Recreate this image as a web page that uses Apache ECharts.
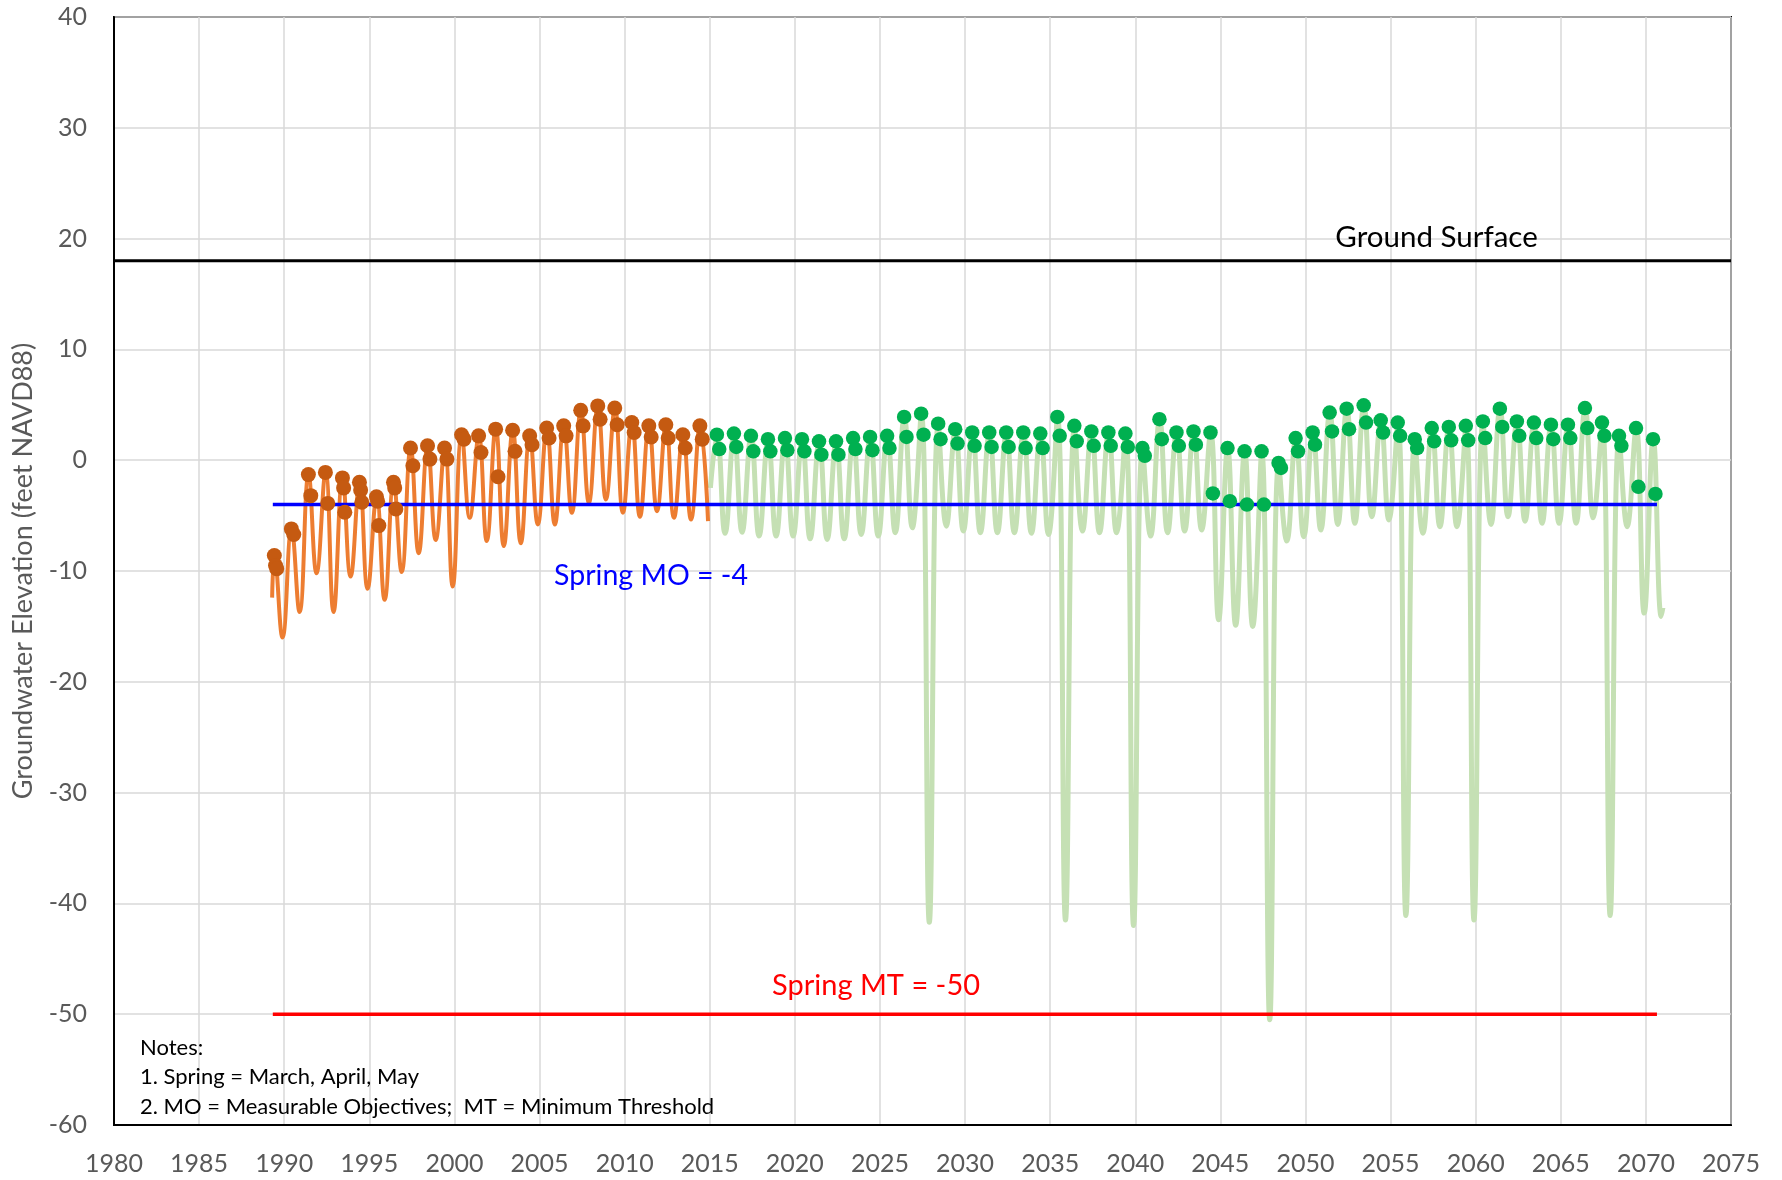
<!DOCTYPE html>
<html>
<head>
<meta charset="utf-8">
<title>Groundwater Elevation</title>
<script src="https://cdn.jsdelivr.net/npm/echarts@6/dist/echarts.min.js"></script>
<style>
  html, body { margin: 0; padding: 0; background: #fff; }
  #chart { width: 1782px; height: 1180px; }
</style>
</head>
<body>
<div id="chart"></div>
<script>
// historical record (orange), one spring high / fall low per year
var histYears = [1989, 1990, 1991, 1992, 1993, 1994, 1995, 1996, 1997, 1998, 1999, 2000, 2001,
  2002, 2003, 2004, 2005, 2006, 2007, 2008, 2009, 2010, 2011, 2012, 2013, 2014];
var histPeak = [-8.6, -6.2, -1.3, -1.1, -1.6, -2.0, -3.3, -2.0, 1.1, 1.3, 1.1, 2.3, 2.2,
  2.9, 2.7, 2.2, 2.9, 3.1, 4.5, 4.9, 4.7, 3.4, 3.1, 3.2, 2.3, 3.1];
var histTrough = [-16.0, -13.7, -10.2, -13.7, -10.5, -11.6, -12.6, -10.1, -8.4, -7.2, -11.4, -5.2, -7.3,
  -7.75, -7.5, -5.8, -5.8, -4.75, -3.85, -3.55, -4.75, -5.1, -4.6, -5.2, -5.35, -5.5];
var histStart = [1989.29, -12.4];
// spring measurements (March / April / May)
var histSpringHi = [-8.6, -6.2, -1.3, -1.1, -1.6, -2.0, -3.3, -2.0, 1.1, 1.3, 1.1, 2.3, 2.2,
  2.8, 2.7, 2.2, 2.9, 3.1, 4.5, 4.9, 4.7, 3.4, 3.1, 3.2, 2.3, 3.1];
var histSpringMid = [-9.5, null, null, null, -2.5, -2.7, -3.7, -2.5, null, null, null, null, null,
  null, null, null, null, null, null, null, null, null, null, null, null, null];
var histSpringLo = [-9.8, -6.7, -3.2, -3.9, -4.7, -3.8, -5.9, -4.4, -0.5, 0.1, 0.1, 1.9, 0.7,
  -1.5, 0.8, 1.4, 2.0, 2.2, 3.1, 3.7, 3.2, 2.5, 2.1, 2.0, 1.1, 1.9];

// projected (green)
var fcstYears = [2015, 2016, 2017, 2018, 2019, 2020, 2021, 2022, 2023, 2024, 2025, 2026, 2027, 2028,
  2029, 2030, 2031, 2032, 2033, 2034, 2035, 2036, 2037, 2038, 2039, 2040, 2041, 2042,
  2043, 2044, 2045, 2046, 2047, 2048, 2049, 2050, 2051, 2052, 2053, 2054, 2055, 2056,
  2057, 2058, 2059, 2060, 2061, 2062, 2063, 2064, 2065, 2066, 2067, 2068, 2069, 2070];
var fcstPeak = [2.3, 2.4, 2.2, 1.9, 2.0, 1.9, 1.7, 1.7, 2.0, 2.1, 2.2, 3.9, 4.2, 3.3,
  2.8, 2.5, 2.5, 2.5, 2.5, 2.4, 3.9, 3.1, 2.6, 2.5, 2.4, 1.1, 3.7, 2.5,
  2.6, 2.5, 1.1, 0.8, 0.8, -0.25, 2.0, 2.5, 4.3, 4.65, 4.95, 3.6, 3.4, 1.9,
  2.9, 3.0, 3.1, 3.5, 4.65, 3.5, 3.4, 3.2, 3.2, 4.7, 3.4, 2.2, 2.9, 1.9];
var fcstTrough = [-6.6, -6.5, -6.85, -6.85, -6.85, -7.1, -7.15, -7.1, -6.7, -6.85, -6.55, -6.1, -41.7, -5.95,
  -6.4, -6.55, -6.55, -6.55, -6.6, -6.7, -41.5, -6.4, -6.55, -6.55, -42.0, -6.85, -6.55, -6.4,
  -6.3, -14.4, -14.9, -15.0, -50.5, -7.3, -6.9, -6.3, -5.8, -5.7, -5.1, -5.4, -41.1, -6.6,
  -6.0, -6.0, -41.5, -5.8, -5.1, -5.5, -5.7, -5.7, -5.7, -5.2, -41.1, -6.0, -13.8, -14.1];
var fcstStart = [2015.04, -2.5];
var fcstEnd = [2071.0, -13.3];
var fcstSpringHi = [2.3, 2.4, 2.2, 1.9, 2.0, 1.9, 1.7, 1.7, 2.0, 2.1, 2.2, 3.9, 4.2, 3.3,
  2.8, 2.5, 2.5, 2.5, 2.5, 2.4, 3.9, 3.1, 2.6, 2.5, 2.4, 1.1, 3.7, 2.5,
  2.6, 2.5, 1.1, 0.8, 0.8, -0.25, 2.0, 2.5, 4.3, 4.65, 4.95, 3.6, 3.4, 1.9,
  2.9, 3.0, 3.1, 3.5, 4.65, 3.5, 3.4, 3.2, 3.2, 4.7, 3.4, 2.2, 2.9, 1.9];
var fcstSpringLo = [1.0, 1.2, 0.8, 0.8, 0.9, 0.8, 0.5, 0.5, 1.0, 0.9, 1.1, 2.1, 2.3, 1.9,
  1.5, 1.3, 1.2, 1.2, 1.1, 1.1, 2.2, 1.7, 1.3, 1.3, 1.2, 0.4, 1.9, 1.3,
  1.4, -3.0, -3.7, -4.0, -4.0, -0.7, 0.8, 1.4, 2.6, 2.8, 3.4, 2.5, 2.2, 1.1,
  1.7, 1.8, 1.8, 2.0, 3.0, 2.2, 2.0, 1.9, 2.0, 2.9, 2.2, 1.3, -2.4, -3.05];

// reference levels
var groundSurface = 18;
var springMO = -4;
var springMT = -50;
var thresholdSpan = [1989.33, 2070.65];

var xTicks = { min: 1980, max: 2075, step: 5 };
var yTicks = { min: -60, max: 40, step: 10 };

// where in the year the high / low / spring readings fall
var PEAK_AT = 0.43, TROUGH_AT = 0.9;
var HI_AT = 0.42, MID_AT = 0.49, LO_AT = 0.56;

function seasonalLine(start, years, peaks, troughs, end) {
  var pts = [start];
  years.forEach(function (y, i) {
    pts.push([y + PEAK_AT, peaks[i]]);
    pts.push([y + TROUGH_AT, troughs[i]]);
  });
  if (end) pts.push(end);
  return pts;
}

function springDots(years, lists, offsets) {
  var pts = [];
  years.forEach(function (y, i) {
    lists.forEach(function (list, k) {
      if (list[i] != null) pts.push([y + offsets[k], list[i]]);
    });
  });
  return pts;
}

function level(v, span) {
  return [[span[0], v], [span[1], v]];
}

var FONT = 'Lato';
var chart = echarts.init(document.getElementById('chart'), null, { renderer: 'canvas' });

var option = {
  animation: false,
  backgroundColor: '#fff',
  textStyle: { fontFamily: FONT },
  grid: {
    left: 114, top: 17, right: 51, bottom: 55,
    show: true, borderColor: '#000', borderWidth: 2,
    containLabel: false, outerBoundsMode: 'none'
  },
  xAxis: {
    type: 'value',
    min: xTicks.min, max: xTicks.max, interval: xTicks.step,
    axisLine: { show: true, onZero: false, lineStyle: { color: '#000', width: 2 } },
    axisTick: { show: false },
    axisLabel: {
      color: '#595959', fontSize: 25, margin: 26, fontFamily: FONT,
      formatter: function (v) { return String(v); }
    },
    splitLine: { show: true, lineStyle: { color: '#d9d9d9', width: 1.5 } }
  },
  yAxis: {
    type: 'value',
    min: yTicks.min, max: yTicks.max, interval: yTicks.step,
    name: 'Groundwater Elevation (feet NAVD88)',
    nameLocation: 'middle',
    nameGap: 77,
    nameTextStyle: { color: '#595959', fontSize: 27, fontFamily: FONT },
    axisLine: { show: true, onZero: false, lineStyle: { color: '#000', width: 2 } },
    axisTick: { show: false },
    axisLabel: { color: '#595959', fontSize: 25, margin: 27, fontFamily: FONT },
    splitLine: { show: true, lineStyle: { color: '#d9d9d9', width: 1.5 } }
  },
  series: [
    {
      name: 'Projected',
      type: 'line',
      data: seasonalLine(fcstStart, fcstYears, fcstPeak, fcstTrough, fcstEnd),
      smooth: 0.45,
      showSymbol: false,
      lineStyle: { color: '#c5e0b4', width: 5 },
      z: 2
    },
    {
      name: 'Historical',
      type: 'line',
      data: seasonalLine(histStart, histYears, histPeak, histTrough, null),
      smooth: 0.45,
      showSymbol: false,
      lineStyle: { color: '#ed7d31', width: 4 },
      z: 2
    },
    {
      name: 'Ground Surface',
      type: 'line',
      data: level(groundSurface, [xTicks.min, xTicks.max]),
      showSymbol: false,
      lineStyle: { color: '#000', width: 3 },
      z: 3
    },
    {
      name: 'Spring MO',
      type: 'line',
      data: level(springMO, thresholdSpan),
      showSymbol: false,
      lineStyle: { color: '#0000ff', width: 3.5 },
      z: 3
    },
    {
      name: 'Spring MT',
      type: 'line',
      data: level(springMT, thresholdSpan),
      showSymbol: false,
      lineStyle: { color: '#ff0000', width: 3.5 },
      z: 3
    },
    {
      name: 'Historical Spring',
      type: 'scatter',
      data: springDots(histYears, [histSpringHi, histSpringMid, histSpringLo], [HI_AT, MID_AT, LO_AT]),
      symbol: 'circle',
      symbolSize: 15,
      itemStyle: { color: '#c55a11', opacity: 1 },
      z: 4
    },
    {
      name: 'Projected Spring',
      type: 'scatter',
      data: springDots(fcstYears, [fcstSpringHi, fcstSpringLo], [HI_AT, LO_AT]),
      symbol: 'circle',
      symbolSize: 14.5,
      itemStyle: { color: '#00b050', opacity: 1 },
      z: 4
    }
  ]
};

chart.setOption(option);

// text labels anchored in data coordinates
function at(x, y) {
  return chart.convertToPixel({ xAxisIndex: 0, yAxisIndex: 0 }, [x, y]);
}
var gs = at(2057.7, 20.1);
var mo = at(2011.55, -10.4);
var mt = at(2024.77, -47.4);

chart.setOption({
  graphic: [
    {
      type: 'text', x: gs[0], y: gs[1], z: 10,
      style: { text: 'Ground Surface', fill: '#000', font: '29.5px ' + FONT, align: 'center', verticalAlign: 'middle' }
    },
    {
      type: 'text', x: mo[0], y: mo[1], z: 10,
      style: { text: 'Spring MO = -4', fill: '#0000ff', font: '28.5px ' + FONT, align: 'center', verticalAlign: 'middle' }
    },
    {
      type: 'text', x: mt[0], y: mt[1], z: 10,
      style: { text: 'Spring MT = -50', fill: '#ff0000', font: '29px ' + FONT, align: 'center', verticalAlign: 'middle' }
    },
    {
      type: 'text', x: 140, y: 1048, z: 10,
      style: { text: 'Notes:', fill: '#000', font: '22px ' + FONT, verticalAlign: 'middle' }
    },
    {
      type: 'text', x: 140, y: 1077, z: 10,
      style: { text: '1. Spring = March, April, May', fill: '#000', font: '22px ' + FONT, verticalAlign: 'middle' }
    },
    {
      type: 'text', x: 140, y: 1107, z: 10,
      style: { text: '2. MO = Measurable Objectives;  MT = Minimum Threshold', fill: '#000', font: '22px ' + FONT, verticalAlign: 'middle' }
    }
  ]
});
</script>
</body>
</html>
